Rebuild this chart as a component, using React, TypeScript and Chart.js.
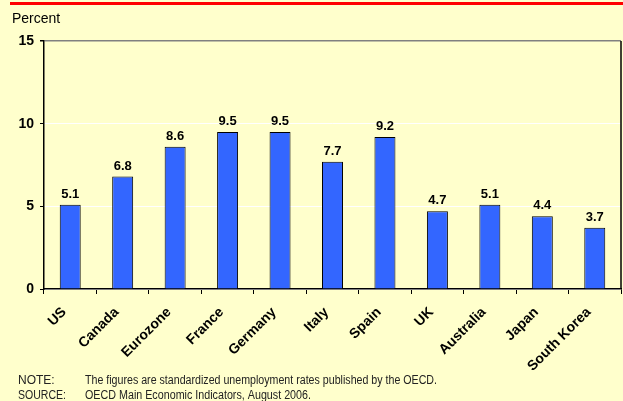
import React, { useEffect, useRef } from "react";
import { Chart, registerables } from "chart.js";
Chart.register(...registerables);

const categories = ["US", "Canada", "Eurozone", "France", "Germany", "Italy", "Spain", "UK", "Australia", "Japan", "South Korea"];
const values = [5.1, 6.8, 8.6, 9.5, 9.5, 7.7, 9.2, 4.7, 5.1, 4.4, 3.7];
const yMin = 0;
const yMax = 15;
const yStep = 5;
const yTitle = "Percent";
const noteLabels = ["NOTE:", "SOURCE:"];
const noteTexts = [
  "The figures are standardized unemployment rates published by the OECD.",
  "OECD Main Economic Indicators, August 2006.",
];

const FONT = "Arial, 'Liberation Sans', sans-serif";

const decorPlugin = {
  id: "decor",
  beforeDraw(chart: any) {
    const ctx = chart.ctx;
    ctx.save();
    ctx.fillStyle = "#FFFFCC";
    ctx.fillRect(0, 0, chart.width, chart.height);
    ctx.fillStyle = "#FF0000";
    ctx.fillRect(10, 2, chart.width - 10, 3);
    ctx.restore();
  },
  afterDraw(chart: any) {
    const ctx = chart.ctx;
    const a = chart.chartArea;
    ctx.save();
    ctx.strokeStyle = "#000";
    ctx.lineWidth = 1.5;
    ctx.beginPath();
    ctx.moveTo(a.right, a.top);
    ctx.lineTo(a.right, a.bottom);
    ctx.stroke();
    ctx.fillStyle = "#000";
    ctx.font = `14px ${FONT}`;
    ctx.textBaseline = "alphabetic";
    ctx.textAlign = "left";
    ctx.fillText(yTitle, 12, 23);
    ctx.fillStyle = "#222";
    ctx.font = `12px ${FONT}`;
    ctx.fillText(noteLabels[0], 18, 384, 40);
    ctx.fillText(noteLabels[1], 18, 399, 48);
    ctx.fillText(noteTexts[0], 85, 384, 352);
    ctx.fillText(noteTexts[1], 85, 399, 226);
    const meta = chart.getDatasetMeta(0);
    ctx.fillStyle = "#000";
    ctx.font = `bold 13px ${FONT}`;
    ctx.textAlign = "center";
    meta.data.forEach((bar: any, i: number) => {
      ctx.fillText(values[i].toFixed(1), bar.x, bar.y - 7);
    });
    ctx.restore();
  },
};

export default function App() {
  const ref = useRef<HTMLCanvasElement>(null);
  useEffect(() => {
    document.body.style.margin = "0";
    const chart = new Chart(ref.current!, {
      type: "bar",
      data: {
        labels: categories,
        datasets: [
          {
            data: values,
            backgroundColor: "#3366FF",
            borderColor: "#000",
            borderWidth: 1,
            categoryPercentage: 1,
            barPercentage: 0.4,
          },
        ],
      },
      options: {
        responsive: false,
        animation: false,
        devicePixelRatio: 1,
        layout: { padding: { top: 41, right: 2, left: 0, bottom: 0 } },
        plugins: { legend: { display: false }, tooltip: { enabled: false } },
        scales: {
          x: {
            grid: { offset: true, drawOnChartArea: false, drawTicks: true, tickLength: 5, tickColor: "#000" },
            border: { color: "#000", width: 1.5 },
            ticks: {
              font: { family: FONT, size: 14, weight: "bold" },
              color: "#000",
              minRotation: 45,
              maxRotation: 45,
              padding: 10,
              labelOffset: -6,
              autoSkip: false,
            },
            afterFit: (s: any) => {
              s.height = 112;
            },
          },
          y: {
            min: yMin,
            max: yMax,
            ticks: {
              stepSize: yStep,
              font: { family: FONT, size: 14, weight: "bold" },
              color: "#000",
              padding: 6,
            },
            grid: {
              color: (c: any) => (c.tick && c.tick.value === yMax ? "#808080" : "#FFFFFF"),
              lineWidth: (c: any) => (c.tick && c.tick.value === yMax ? 1.5 : 1),
              tickColor: "#000",
              tickLength: 4,
            },
            border: { color: "#000", width: 1.5 },
            afterFit: (s: any) => {
              s.width = 44;
            },
          },
        },
      },
      plugins: [decorPlugin],
    } as any);
    return () => chart.destroy();
  }, []);
  return (
    <div style={{ width: 623, height: 401 }}>
      <canvas ref={ref} width={623} height={401} style={{ display: "block" }} />
    </div>
  );
}
